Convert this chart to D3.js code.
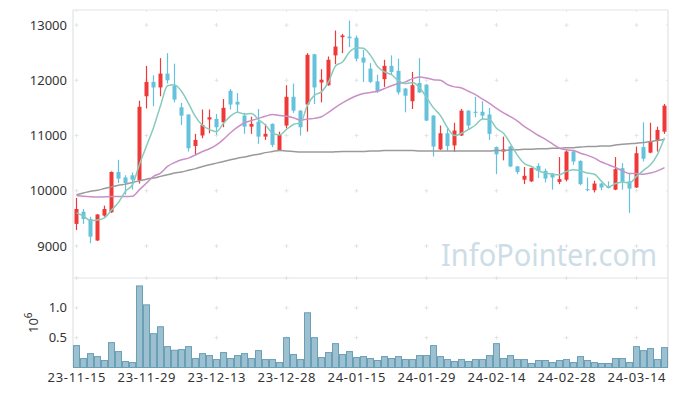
<!DOCTYPE html>
<html>
<head>
<meta charset="utf-8">
<script src="https://cdn.jsdelivr.net/npm/d3@7"></script>
<style>
  body { margin: 0; background: #fff; }
  text { font-family: "Noto Sans", sans-serif; }
</style>
</head>
<body>
<div id="chart"></div>
<script>
// trading days (KRX), one candle each
const dates = [
  "2023-11-15","2023-11-16","2023-11-17","2023-11-20","2023-11-21","2023-11-22","2023-11-23","2023-11-24","2023-11-27","2023-11-28",
  "2023-11-29","2023-11-30","2023-12-01","2023-12-04","2023-12-05","2023-12-06","2023-12-07","2023-12-08","2023-12-11","2023-12-12",
  "2023-12-13","2023-12-14","2023-12-15","2023-12-18","2023-12-19","2023-12-20","2023-12-21","2023-12-22","2023-12-26","2023-12-27",
  "2023-12-28","2024-01-02","2024-01-03","2024-01-04","2024-01-05","2024-01-08","2024-01-09","2024-01-10","2024-01-11","2024-01-12",
  "2024-01-15","2024-01-16","2024-01-17","2024-01-18","2024-01-19","2024-01-22","2024-01-23","2024-01-24","2024-01-25","2024-01-26",
  "2024-01-29","2024-01-30","2024-01-31","2024-02-01","2024-02-02","2024-02-05","2024-02-06","2024-02-07","2024-02-08","2024-02-13",
  "2024-02-14","2024-02-15","2024-02-16","2024-02-19","2024-02-20","2024-02-21","2024-02-22","2024-02-23","2024-02-26","2024-02-27",
  "2024-02-28","2024-02-29","2024-03-04","2024-03-05","2024-03-06","2024-03-07","2024-03-08","2024-03-11","2024-03-12","2024-03-13",
  "2024-03-14","2024-03-15","2024-03-18","2024-03-19","2024-03-20"
]

const open = [
  9400, 9620, 9490, 9100, 9550, 9610, 10340, 10240, 10280, 10190,
  11710, 11970, 11870, 12120, 11900, 11510, 11380, 10810, 11000, 11290,
  11300, 11240, 11810, 11610, 11360, 11160, 11250, 10980, 11210, 10730,
  11180, 11700, 11450, 11560, 12470, 11960, 11910, 12450, 12780, 12790,
  12770, 12410, 12210, 11980, 12020, 12260, 12170, 11850, 11620, 11950,
  11920, 11360, 10750, 11040, 10820, 11000, 11450, 11430, 11430, 11380,
  10790, 10710, 10800, 10440, 10200, 10170, 10450, 10360, 10310, 10160,
  10200, 10710, 10540, 10030, 10010, 10130, 10080, 10020, 10410, 10170,
  10060, 10790, 10690, 10920, 11070
]
const high = [
  9870, 9670, 9530, 9580, 9730, 10350, 10560, 10280, 10330, 11630,
  12260, 12090, 12400, 12490, 12300, 11590, 11380, 11030, 11470, 11470,
  11390, 11660, 11840, 11770, 11410, 11340, 11480, 11210, 11220, 11070,
  11910, 11940, 11460, 12490, 12480, 12200, 12430, 12900, 12840, 13080,
  12810, 12550, 12310, 12100, 12370, 12450, 12390, 11860, 12150, 12400,
  11930, 11370, 11180, 11120, 11230, 11480, 11460, 11700, 11620, 11500,
  10800, 10980, 10810, 10450, 10430, 10420, 10500, 10400, 10320, 10610,
  10730, 10740, 10550, 10240, 10180, 10140, 10170, 10610, 10500, 10310,
  10800, 11240, 11230, 11160, 11570
]
const low = [
  9290, 9400, 9050, 9090, 9530, 9600, 10140, 9930, 10020, 10130,
  11490, 11530, 11710, 11940, 11600, 11190, 10710, 10640, 10950, 11040,
  11010, 11150, 11470, 11410, 11030, 11030, 10850, 10920, 10790, 10720,
  11130, 11410, 11000, 11070, 11570, 11600, 11900, 12290, 12490, 12600,
  12340, 11970, 11950, 11770, 11880, 12100, 11740, 11420, 11480, 11770,
  11260, 10620, 10740, 10720, 10700, 10990, 11100, 11330, 11290, 10920,
  10300, 10550, 10430, 10300, 10120, 10160, 10230, 10150, 10020, 10120,
  10170, 10470, 10100, 9990, 9970, 10010, 10040, 10010, 10020, 9600,
  10050, 10530, 10680, 10710, 11030
]
const close = [
  9670, 9490, 9170, 9570, 9670, 10340, 10220, 10140, 10200, 11520,
  11970, 11870, 12120, 12000, 11650, 11360, 10770, 10920, 11190, 11330,
  11150, 11500, 11560, 11560, 11160, 11210, 10980, 11030, 10830, 11010,
  11700, 11450, 11150, 12460, 11870, 12010, 12370, 12610, 12810, 12760,
  12390, 12320, 11970, 11800, 12260, 12150, 11780, 11720, 11910, 11780,
  11270, 10800, 11040, 10810, 11090, 11450, 11180, 11410, 11360, 11030,
  10660, 10750, 10440, 10340, 10270, 10410, 10360, 10220, 10240, 10210,
  10710, 10530, 10120, 10010, 10130, 10060, 10050, 10390, 10160, 10040,
  10680, 10580, 10890, 11100, 11540
]
const volume = [
  367000, 150000, 233000, 183000, 117000, 417000, 267000, 100000, 83000, 1367000,
  1050000, 567000, 683000, 350000, 289000, 300000, 350000, 150000, 233000, 200000,
  133000, 250000, 150000, 200000, 233000, 150000, 283000, 133000, 133000, 83000,
  500000, 217000, 133000, 917000, 500000, 167000, 250000, 400000, 217000, 267000,
  167000, 183000, 150000, 117000, 183000, 150000, 183000, 133000, 133000, 200000,
  200000, 367000, 183000, 133000, 100000, 133000, 100000, 133000, 133000, 200000,
  400000, 150000, 200000, 133000, 133000, 67000, 117000, 117000, 83000, 117000,
  133000, 83000, 183000, 117000, 83000, 67000, 67000, 150000, 150000, 83000,
  350000, 283000, 317000, 133000, 333000
]
// moving averages as drawn
const ma5 = [
  9600, 9540, 9460, 9470, 9510, 9650, 9790, 9990, 10110, 10480,
  10810, 11140, 11540, 11900, 11920, 11800, 11580, 11340, 11180, 11110,
  11070, 11220, 11350, 11420, 11390, 11400, 11290, 11190, 11040, 11010,
  11110, 11200, 11230, 11550, 11730, 11790, 11970, 12260, 12330, 12510,
  12590, 12580, 12450, 12250, 12150, 12100, 11990, 11940, 11960, 11870,
  11690, 11500, 11360, 11140, 11000, 11040, 11110, 11190, 11300, 11290,
  11130, 11040, 10850, 10640, 10490, 10440, 10360, 10320, 10300, 10290,
  10350, 10380, 10360, 10320, 10300, 10170, 10070, 10130, 10160, 10140,
  10260, 10370, 10470, 10660, 10960
]
const ma20 = [
  9915, 9900, 9890, 9885, 9890, 9895, 9895, 9895, 9900, 10020,
  10140, 10260, 10320, 10440, 10510, 10560, 10590, 10650, 10710, 10760,
  10830, 10930, 11050, 11150, 11230, 11270, 11310, 11350, 11380, 11360,
  11350, 11320, 11280, 11300, 11310, 11340, 11420, 11510, 11590, 11660,
  11720, 11760, 11780, 11800, 11850, 11900, 11940, 11970, 12030, 12060,
  12040, 12010, 12000, 11920, 11880, 11860, 11800, 11740, 11660, 11580,
  11490, 11410, 11340, 11260, 11160, 11080, 11000, 10930, 10850, 10770,
  10740, 10730, 10680, 10640, 10590, 10520, 10470, 10420, 10360, 10310,
  10310, 10300, 10320, 10360, 10420
]
const ma120 = [
  9930, 9960, 9990, 10010, 10040, 10070, 10100, 10120, 10150, 10180,
  10210, 10230, 10260, 10290, 10320, 10340, 10370, 10400, 10440, 10470,
  10500, 10530, 10560, 10590, 10610, 10640, 10660, 10690, 10710, 10730,
  10720, 10710, 10700, 10700, 10700, 10700, 10700, 10705, 10710, 10710,
  10710, 10710, 10720, 10720, 10730, 10730, 10730, 10730, 10730, 10720,
  10720, 10720, 10720, 10720, 10720, 10720, 10720, 10720, 10720, 10720,
  10730, 10730, 10740, 10740, 10750, 10750, 10760, 10760, 10770, 10770,
  10780, 10780, 10790, 10800, 10800, 10810, 10810, 10830, 10840, 10850,
  10860, 10875, 10890, 10910, 10930
]
const priceTicks = [9000, 10000, 11000, 12000, 13000]
const volTicks = [500000, 1000000]
const volGrid = [500000, 1000000, 1500000]
const dateTickIdx = [0, 10, 20, 30, 40, 50, 60, 70, 80]

const W = 677, H = 396
const plot = { left: 73, right: 668, top: 10, mid: 278, bottom: 367.5 }
const upColor = "#ef3838", downColor = "#64c2dc"

const svg = d3.select("#chart").append("svg")
    .attr("width", W)
    .attr("height", H)

const x = d3.scaleBand().domain(dates).range([plot.left, plot.right])
const y = d3.scaleLinear().domain([9000, 13000]).range([246, 25])
const yVol = d3.scaleLinear().domain([0, 1500000]).range([plot.bottom, plot.mid])
const cx = i => x(dates[i]) + x.bandwidth() / 2

// frame
const frame = svg.append("g").attr("stroke", "#e3e3e3").attr("stroke-width", 1.2)
frame.append("line").attr("x1", plot.left).attr("x2", plot.left).attr("y1", plot.top).attr("y2", plot.bottom)
frame.append("line").attr("x1", plot.right).attr("x2", plot.right).attr("y1", plot.top).attr("y2", plot.bottom)
frame.append("line").attr("x1", plot.left).attr("x2", plot.right).attr("y1", plot.top).attr("y2", plot.top)
frame.append("line").attr("x1", plot.left).attr("x2", plot.right).attr("y1", plot.mid).attr("y2", plot.mid)

// grid crosses
const cross = svg.append("g").attr("stroke", "#e4e4e4").attr("stroke-width", 1)
const crossAt = (px, py) => {
  cross.append("line").attr("x1", px - 2).attr("x2", px + 2).attr("y1", py).attr("y2", py)
  cross.append("line").attr("x1", px).attr("x2", px).attr("y1", py - 2).attr("y2", py + 2)
}
dateTickIdx.forEach(i => {
  priceTicks.forEach(p => crossAt(cx(i), y(p)))
  volGrid.forEach(v => crossAt(cx(i), yVol(v)))
  cross.append("line").attr("x1", cx(i)).attr("x2", cx(i)).attr("y1", plot.top).attr("y2", plot.top + 2)
})
priceTicks.forEach(p => {
  cross.append("line").attr("x1", plot.right - 2).attr("x2", plot.right).attr("y1", y(p)).attr("y2", y(p))
})

// watermark
svg.append("text")
    .attr("x", 441).attr("y", 266)
    .attr("font-size", 30)
    .attr("textLength", 216)
    .attr("lengthAdjust", "spacingAndGlyphs")
    .attr("fill", "#cddde7")
    .text("InfoPointer.com")

// volume bars
svg.append("g").selectAll("rect")
    .data(volume)
    .enter().append("rect")
    .attr("x", (d, i) => x(dates[i]) + 0.5)
    .attr("width", x.bandwidth() - 1)
    .attr("y", d => yVol(d))
    .attr("height", d => plot.bottom - yVol(d))
    .attr("fill", "#9cc0d0")
    .attr("stroke", "#6a9fb8")
    .attr("stroke-width", 1)

// candles
const candles = svg.append("g").selectAll("g")
    .data(dates.map((d, i) => i))
    .enter().append("g")
    .attr("fill", i => close[i] >= open[i] ? upColor : downColor)
    .attr("stroke", i => close[i] >= open[i] ? upColor : downColor)

candles.append("line")
    .attr("x1", i => cx(i)).attr("x2", i => cx(i))
    .attr("y1", i => y(high[i])).attr("y2", i => y(low[i]))
    .attr("stroke-width", 1.2)

candles.append("rect")
    .attr("x", i => cx(i) - 2)
    .attr("width", 4)
    .attr("y", i => y(Math.max(open[i], close[i])))
    .attr("height", i => Math.max(1, Math.abs(y(open[i]) - y(close[i]))))
    .attr("stroke", "none")

// moving average lines
const maLine = arr => d3.line()
    .x((d, i) => cx(i))
    .y(d => y(d))
    .curve(d3.curveMonotoneX)(arr)

const lines = [
  { data: ma120, color: "#9a9a9a" },
  { data: ma20, color: "#c98fc6" },
  { data: ma5, color: "#86cbbd" }
]
lines.forEach(l => {
  svg.append("path")
      .attr("d", maLine(l.data))
      .attr("fill", "none")
      .attr("stroke", l.color)
      .attr("stroke-width", 1.5)
})

// axis labels
const labels = svg.append("g").attr("fill", "#333").attr("font-size", 13)
priceTicks.forEach(p => {
  labels.append("text")
      .attr("x", 67).attr("y", y(p))
      .attr("dy", "0.35em")
      .attr("text-anchor", "end")
      .text(p)
})
volTicks.forEach(v => {
  labels.append("text")
      .attr("x", 67).attr("y", yVol(v))
      .attr("dy", "0.35em")
      .attr("text-anchor", "end")
      .text(d3.format(".1f")(v / 1e6))
})
dateTickIdx.forEach(i => {
  labels.append("text")
      .attr("x", cx(i) - 29).attr("y", 382)
      .attr("textLength", 58)
      .attr("lengthAdjust", "spacing")
      .text(dates[i].slice(2))
})

// volume unit
const unit = labels.append("text")
    .attr("transform", "translate(38,333) rotate(-90)")
unit.append("tspan").text("10")
unit.append("tspan").attr("dy", -6).attr("font-size", 10).text("6")
</script>
</body>
</html>
